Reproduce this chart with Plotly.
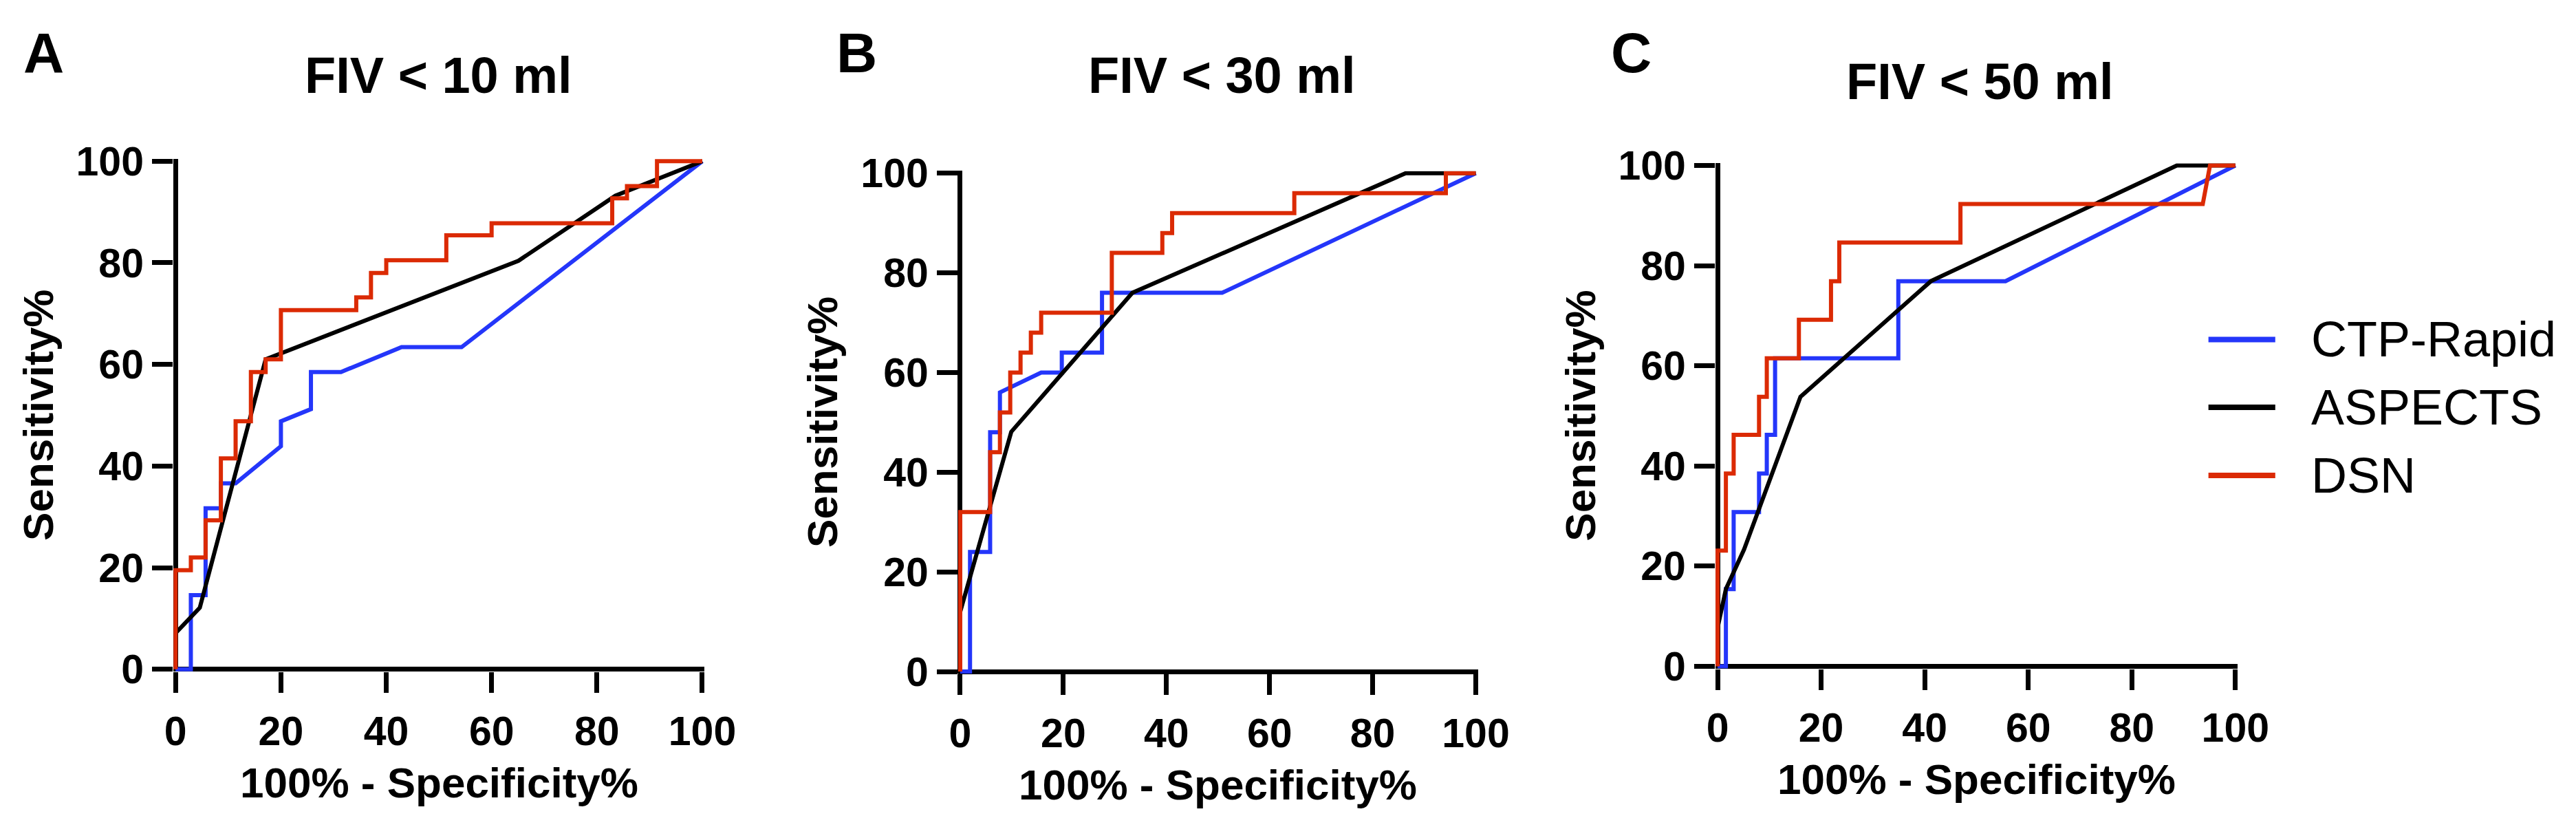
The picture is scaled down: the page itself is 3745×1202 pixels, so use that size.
import plotly.graph_objects as go

W, H = 3745, 1202
FONT = "Liberation Sans"

# ---------------- data ----------------
series_names = ["CTP-Rapid", "ASPECTS", "DSN"]
series_colors = ["#2436FA", "#000000", "#DB2A04"]
panel_titles = ["FIV < 10 ml", "FIV < 30 ml", "FIV < 50 ml"]
panel_letters = ["A", "B", "C"]
tick_values = [0, 20, 40, 60, 80, 100]
x_title = "100% - Specificity%"
y_title = "Sensitivity%"

# Panel A : FIV < 10 ml
a_ctp_x = [0, 2.9, 2.9, 5.7, 5.7, 8.6, 8.6, 11.4, 20.0, 20.0, 25.7, 25.7, 31.4, 42.9, 54.3, 100]
a_ctp_y = [0, 0, 14.6, 14.6, 31.7, 31.7, 36.6, 36.6, 43.9, 48.8, 51.2, 58.5, 58.5, 63.4, 63.4, 100]
a_asp_x = [0, 4.6, 17.1, 65.1, 83.5, 100]
a_asp_y = [7.1, 12.1, 61.0, 80.4, 93.2, 100]
a_dsn_x = [0, 0, 2.9, 2.9, 5.7, 5.7, 8.6, 8.6, 11.4, 11.4, 14.3, 14.3, 17.1, 17.1, 20.0, 20.0,
           34.3, 34.3, 37.1, 37.1, 40.0, 40.0, 51.4, 51.4, 60.0, 60.0, 82.9, 82.9, 85.7, 85.7,
           91.4, 91.4, 100]
a_dsn_y = [0, 19.5, 19.5, 22.0, 22.0, 29.3, 29.3, 41.5, 41.5, 48.8, 48.8, 58.5, 58.5, 61.0, 61.0, 70.7,
           70.7, 73.2, 73.2, 78.0, 78.0, 80.5, 80.5, 85.4, 85.4, 87.8, 87.8, 92.7, 92.7, 95.1,
           95.1, 100, 100]

# Panel B : FIV < 30 ml
b_ctp_x = [0, 1.9, 1.9, 5.8, 5.8, 7.7, 7.7, 15.7, 19.7, 19.7, 27.5, 27.5, 50.8, 100]
b_ctp_y = [0, 0, 24, 24, 48, 48, 56, 60, 60, 64, 64, 76, 76, 100]
b_asp_x = [0, 9.9, 33.4, 86.4, 100]
b_asp_y = [12.0, 48.1, 76.0, 100, 100]
b_dsn_x = [0, 0, 5.8, 5.8, 7.7, 7.7, 9.7, 9.7, 11.7, 11.7, 13.7, 13.7, 15.7, 15.7, 29.4, 29.4,
           39.2, 39.2, 41.1, 41.1, 64.8, 64.8, 94.2, 94.2, 100]
b_dsn_y = [0, 32, 32, 44, 44, 52, 52, 60, 60, 64, 64, 68, 68, 72, 72, 84,
           84, 88, 88, 92, 92, 96, 96, 100, 100]

# Panel C : FIV < 50 ml
c_ctp_x = [0, 1.6, 1.6, 3.1, 3.1, 8.0, 8.0, 9.5, 9.5, 11.1, 11.1, 34.9, 34.9, 55.6, 100]
c_ctp_y = [0, 0, 15.4, 15.4, 30.8, 30.8, 38.5, 38.5, 46.2, 46.2, 61.5, 61.5, 76.9, 76.9, 100]
c_asp_x = [0, 1.6, 5.1, 16.0, 41.2, 88.7, 100]
c_asp_y = [7.7, 15.4, 23.3, 53.8, 76.9, 100, 100]
c_dsn_x = [0, 0, 1.6, 1.6, 3.1, 3.1, 8.0, 8.0, 9.5, 9.5, 15.7, 15.7, 21.9, 21.9, 23.5, 23.5,
           46.9, 46.9, 93.7, 95.1, 100]
c_dsn_y = [0, 23.1, 23.1, 38.5, 38.5, 46.2, 46.2, 53.8, 53.8, 61.5, 61.5, 69.2, 69.2, 76.9, 76.9, 84.6,
           84.6, 92.3, 92.3, 100, 100]

panel_data = [
    [(a_ctp_x, a_ctp_y), (a_asp_x, a_asp_y), (a_dsn_x, a_dsn_y)],
    [(b_ctp_x, b_ctp_y), (b_asp_x, b_asp_y), (b_dsn_x, b_dsn_y)],
    [(c_ctp_x, c_ctp_y), (c_asp_x, c_asp_y), (c_dsn_x, c_dsn_y)],
]

# ---------------- layout geometry (pixels) ----------------
PAD = 0.45  # axis padding (data units) so the zero lines sit on the data origin
# pixel position of data 0 and 100 on each axis: (x0, x100, y100, y0)
panel_px = [
    (238.0, 1016.0, 207.5, 984.0),
    (1397.0, 2158.5, 225.8, 987.5),
    (2515.7, 3280.5, 214.0, 979.5),
]
title_px = [(626.5, 76), (1784, 76), (2903, 86)]
letter_px = [(43.5, 42), (1244.5, 42), (2388, 42)]


def px2paper_x(px):
    return px / W


def px2paper_y(py):
    return 1 - py / H


fig = go.Figure()
layout_axes = {}
annotations = []

for i in range(3):
    x0, x100, y100, y0 = panel_px[i]
    ppx = (x100 - x0) / 100.0
    ppy = (y0 - y100) / 100.0
    left, right = x0 - PAD * ppx, x100 + PAD * ppx
    top, bottom = y100 - PAD * ppy, y0 + PAD * ppy
    sfx = "" if i == 0 else str(i + 1)
    common = dict(
        range=[-PAD, 100 + PAD], showgrid=False, zeroline=True, zerolinecolor="black",
        zerolinewidth=7, showline=False, ticks="outside", ticklen=30, tickwidth=7,
        tickcolor="black", tickmode="array", tickvals=tick_values,
        ticktext=[str(v) for v in tick_values],
        tickfont=dict(family=FONT, size=59, color="black", weight="bold"),
        fixedrange=True,
    )
    layout_axes["xaxis" + sfx] = dict(common, domain=[px2paper_x(left), px2paper_x(right)],
                                      anchor="y" + sfx, ticklabelstandoff=5)
    layout_axes["yaxis" + sfx] = dict(common, domain=[px2paper_y(bottom), px2paper_y(top)],
                                      anchor="x" + sfx)

    for j, (xs, ys) in enumerate(panel_data[i]):
        fig.add_trace(go.Scatter(
            x=xs, y=ys, mode="lines", name=series_names[j],
            line=dict(color=series_colors[j], width=6),
            xaxis="x" + sfx, yaxis="y" + sfx, showlegend=False,
            hoverinfo="skip",
        ))

    # panel title
    annotations.append(dict(
        text=panel_titles[i], xref="paper", yref="paper",
        x=px2paper_x(title_px[i][0]), y=px2paper_y(title_px[i][1]),
        xanchor="center", yanchor="middle", showarrow=False,
        font=dict(family=FONT, size=74, color="black", weight="bold"),
    ))
    # panel letter
    annotations.append(dict(
        text=panel_letters[i], xref="paper", yref="paper",
        x=px2paper_x(letter_px[i][0]), y=px2paper_y(letter_px[i][1]),
        xanchor="center", yanchor="middle", showarrow=False,
        font=dict(family=FONT, size=82, color="black", weight="bold"),
    ))
    # x axis title
    annotations.append(dict(
        text=x_title, xref="paper", yref="paper",
        x=px2paper_x((x0 + x100) / 2), y=px2paper_y(y0 + 173),
        xanchor="center", yanchor="middle", showarrow=False,
        font=dict(family=FONT, size=62, color="black", weight="bold"),
    ))
    # y axis title
    annotations.append(dict(
        text=y_title, xref="paper", yref="paper", textangle=-90,
        x=px2paper_x(x0 - 203), y=px2paper_y((y0 + y100) / 2),
        xanchor="center", yanchor="middle", showarrow=False,
        font=dict(family=FONT, size=62, color="black", weight="bold"),
    ))

# ---------------- legend (drawn manually to match the long line samples) ----------------
legend_line_x = (3240.7, 3339.4)
legend_rows_y = [480.0, 583.6, 687.7]
legend_text_x = 3390
shapes = []
for j in range(3):
    shapes.append(dict(
        type="line", xref="paper", yref="paper",
        x0=px2paper_x(legend_line_x[0]), x1=px2paper_x(legend_line_x[1]),
        y0=px2paper_y(legend_rows_y[j]), y1=px2paper_y(legend_rows_y[j]),
        line=dict(color=series_colors[j], width=8),
    ))
    annotations.append(dict(
        text=series_names[j], xref="paper", yref="paper",
        x=px2paper_x(legend_text_x), y=px2paper_y(legend_rows_y[j]),
        xanchor="left", yanchor="middle", showarrow=False,
        font=dict(family=FONT, size=72, color="black"),
    ))

fig.update_layout(
    width=W, height=H, margin=dict(l=0, r=0, t=0, b=0),
    paper_bgcolor="white", plot_bgcolor="white",
    showlegend=False, annotations=annotations, shapes=shapes,
    **layout_axes,
)

fig.write_html("out.html")
